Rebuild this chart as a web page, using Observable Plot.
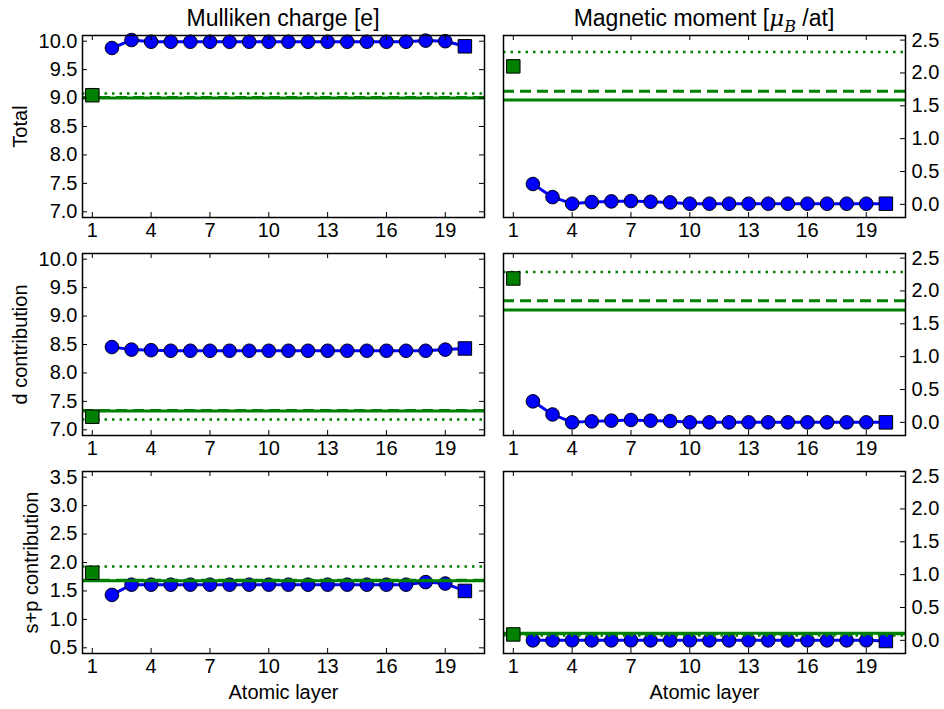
<!DOCTYPE html>
<html><head><meta charset="utf-8">
<script src="https://cdn.jsdelivr.net/npm/d3@7"></script>
<script src="https://cdn.jsdelivr.net/npm/@observablehq/plot@0.6"></script>
<style>
body{margin:0;background:#fff;}
#chart{position:relative;width:944px;height:709px;overflow:hidden;font-family:"Liberation Sans",Arial,sans-serif;background:#fff;}
.title{position:absolute;top:5px;font-size:23px;white-space:nowrap;transform:translateX(-50%);color:#000;}
.panel{position:absolute;}
.m{font-family:"DejaVu Serif",serif;font-style:italic;}
</style></head><body><div id="chart"></div>
<script>
// ---- data ----
const xTicks = [1, 4, 7, 10, 13, 16, 19];
const blueLayers = [2,3,4,5,6,7,8,9,10,11,12,13,14,15,16,17,18,19,20];
const refLayer = 1;

const chargeTotal = [9.88,10.02,9.99,9.99,9.99,9.99,9.99,9.99,9.99,9.99,9.99,9.99,9.99,9.99,9.99,9.99,10.01,10.0,9.91];
const chargeD     = [8.455,8.41,8.40,8.39,8.39,8.39,8.39,8.39,8.39,8.39,8.39,8.39,8.39,8.39,8.39,8.39,8.39,8.41,8.43];
const chargeSP    = [1.43,1.61,1.61,1.61,1.61,1.61,1.61,1.61,1.61,1.61,1.61,1.61,1.61,1.61,1.61,1.61,1.655,1.63,1.5];

const momentTotal = [0.31,0.11,0.01,0.035,0.045,0.05,0.04,0.03,0.01,0.01,0.01,0.01,0.01,0.01,0.01,0.01,0.01,0.01,0.01];
const momentD     = [0.32,0.12,0.0,0.015,0.026,0.036,0.026,0.02,0.0,0.0,0.0,0.0,0.0,0.0,0.0,0.0,0.0,0.0,0.0];
const momentSP    = [0.0,0.0,0.0,0.0,0.0,0.0,0.0,0.0,0.0,0.0,0.0,0.0,0.0,0.0,0.0,0.0,0.0,0.0,-0.01];

// reference (green) values: [Total, d, s+p]
const refCharge    = [9.05, 7.23, 1.82];
const refMoment    = [2.10, 2.19, 0.09];
const chargeSolid  = [9.00, 7.33, 1.68];
const chargeDashed = [9.01, 7.34, 1.69];
const chargeDotted = [9.08, 7.18, 1.93];
const momentSolid  = [1.59, 1.71, 0.11];
const momentDashed = [1.72, 1.85, 0.10];
const momentDotted = [2.32, 2.29, 0.075];

const chargeTicks = [7.0, 7.5, 8.0, 8.5, 9.0, 9.5, 10.0];
const spTicks     = [0.5, 1.0, 1.5, 2.0, 2.5, 3.0, 3.5];
const momentTicks = [0.0, 0.5, 1.0, 1.5, 2.0, 2.5];
const rowLabels   = ["Total", "d contribution", "s+p contribution"];
const xLabel      = "Atomic layer";

// ---- drawing ----
const BLUE = "#0000ff", GREEN = "#008000";
const innerW = 402, innerH = 182;
const chart = document.getElementById("chart");
const fmt = d3.format(".1f");

function panel({left, top, mL, mR, mB, yDomain, yTicks, side, vals, refY, solid, dashed, dotted, yLabel, yLabelDx, withXLabel}) {
  const mT = 10;
  const pts = blueLayers.map((x, i) => ({x, y: vals[i]}));
  const marks = [
    Plot.line(pts, {x: "x", y: "y", stroke: BLUE, strokeWidth: 3}),
    Plot.dot(pts.slice(0, -1), {x: "x", y: "y", r: 6.8, fill: BLUE, stroke: "black", strokeWidth: 1}),
    Plot.dot(pts.slice(-1), {x: "x", y: "y", symbol: "square", r: 7.6, fill: BLUE, stroke: "black", strokeWidth: 1}),
    Plot.ruleY([solid], {stroke: GREEN, strokeWidth: 3}),
    Plot.ruleY([dashed], {stroke: GREEN, strokeWidth: 3, strokeDasharray: "11,6"}),
    Plot.ruleY([dotted], {stroke: GREEN, strokeWidth: 2.5, strokeDasharray: "2.5,5"}),
    Plot.dot([{x: refLayer, y: refY}], {x: "x", y: "y", symbol: "square", r: 7.6, fill: GREEN, stroke: "black", strokeWidth: 1}),
    Plot.frame({stroke: "black", strokeWidth: 1.5}),
    Plot.tickX(xTicks, {x: d => d, insetTop: innerH - 5, stroke: "black"}),
    Plot.tickX(xTicks, {x: d => d, insetBottom: innerH - 5, stroke: "black"}),
    Plot.tickY(yTicks, {y: d => d, insetLeft: innerW - 5, stroke: "black"}),
    Plot.axisX({ticks: xTicks, tickSize: 0, tickPadding: 5, tickFormat: d => String(d), label: null}),
    Plot.axisY({anchor: side, ticks: yTicks, tickSize: 0, tickPadding: side === "left" ? 5 : 6, tickFormat: fmt, label: null})
  ];
  if (side === "left") marks.push(Plot.tickY(yTicks, {y: d => d, insetRight: innerW - 5, stroke: "black"}));
  if (yLabel) marks.push(Plot.text([yLabel], {text: d => d, frameAnchor: "left", textAnchor: "middle", lineAnchor: "middle", rotate: -90, dx: yLabelDx, fontSize: 20}));
  if (withXLabel) marks.push(Plot.text([xLabel], {text: d => d, frameAnchor: "bottom", textAnchor: "middle", lineAnchor: "bottom", dy: 45, fontSize: 20}));
  const svg = Plot.plot({
    width: mL + innerW + mR,
    height: mT + innerH + mB,
    marginLeft: mL, marginRight: mR, marginTop: mT, marginBottom: mB,
    x: {domain: [0.5, 21], label: null},
    y: {domain: yDomain, label: null},
    style: {fontSize: "20px", fontFamily: '"Liberation Sans", Arial, sans-serif', background: "transparent", overflow: "visible", color: "black"},
    marks
  });
  svg.classList.add("panel");
  svg.style.left = left + "px";
  svg.style.top = (top - mT) + "px";
  chart.appendChild(svg);
}

const tops = [35, 253, 471];
for (let r = 0; r < 3; r++) {
  const last = r === 2;
  const mB = last ? 56 : 30;
  const chargeVals = [chargeTotal, chargeD, chargeSP][r];
  const momentVals = [momentTotal, momentD, momentSP][r];
  panel({
    left: 0, top: tops[r], mL: 82, mR: 10, mB,
    yDomain: last ? [0.4, 3.6] : [6.9, 10.1],
    yTicks: last ? spTicks : chargeTicks,
    side: "left", vals: chargeVals, refY: refCharge[r],
    solid: chargeSolid[r], dashed: chargeDashed[r], dotted: chargeDotted[r],
    yLabel: rowLabels[r], yLabelDx: last ? -51 : -62, withXLabel: last
  });
  panel({
    left: 493, top: tops[r], mL: 10, mR: 39, mB,
    yDomain: [-0.2, 2.57],
    yTicks: momentTicks,
    side: "right", vals: momentVals, refY: refMoment[r],
    solid: momentSolid[r], dashed: momentDashed[r], dotted: momentDotted[r],
    yLabel: null, withXLabel: last
  });
}

// column titles
const t1 = document.createElement("div");
t1.className = "title"; t1.style.left = "283px";
t1.textContent = "Mulliken charge [e]";
chart.appendChild(t1);
const t2 = document.createElement("div");
t2.className = "title"; t2.style.left = "704px";
t2.innerHTML = 'Magnetic moment [<span class="m">μ</span><sub class="m" style="font-size:16px;">B</sub> /at]';
chart.appendChild(t2);
</script>
</body></html>
